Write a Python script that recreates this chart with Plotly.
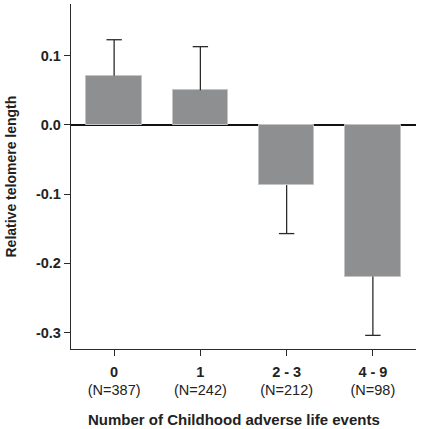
import plotly.graph_objects as go

categories = ["0", "1", "2 - 3", "4 - 9"]
n_labels = ["(N=387)", "(N=242)", "(N=212)", "(N=98)"]
values = [0.071, 0.050, -0.087, -0.219]
errors = [0.052, 0.063, 0.070, 0.085]
y_tickvals = [0.1, 0.0, -0.1, -0.2, -0.3]
y_ticktext = ["0.1", "0.0", "-0.1", "-0.2", "-0.3"]

xs = list(range(len(categories)))
ends = [v + e if v >= 0 else v - e for v, e in zip(values, errors)]

stem_x, stem_y = [], []
for x, v, end in zip(xs, values, ends):
    stem_x += [x, x, None]
    stem_y += [v, end, None]

FONT = "Liberation Sans, Arial, sans-serif"
AX = "#2b2b2b"
TXT = "#222"

fig = go.Figure()
fig.add_trace(go.Bar(
    x=xs, y=values, width=0.646,
    marker=dict(color="#8e8f90", line=dict(color="#c4c4c4", width=1)),
    showlegend=False, hoverinfo="skip",
))
fig.add_trace(go.Scatter(
    x=stem_x, y=stem_y, mode="lines",
    line=dict(color=AX, width=1.3), showlegend=False, hoverinfo="skip",
))
fig.add_trace(go.Scatter(
    x=xs, y=ends, mode="markers",
    marker=dict(symbol="line-ew", size=11, line=dict(color=AX, width=1.3)),
    showlegend=False, hoverinfo="skip",
))

fig.update_layout(
    width=421, height=429,
    margin=dict(l=71, r=5, t=4, b=80, autoexpand=False),
    plot_bgcolor="white", paper_bgcolor="white",
    font=dict(family=FONT, color=TXT, size=14.5),
    bargap=0,
)
fig.update_xaxes(
    automargin=False,
    range=[-0.5, 3.5],
    tickvals=xs,
    ticktext=[f"<b>{c}</b><br>{n}" for c, n in zip(categories, n_labels)],
    tickfont=dict(size=14.5, family=FONT, color=TXT),
    ticks="outside", ticklen=6, tickwidth=1.3, tickcolor=AX,
    ticklabelstandoff=3,
    showline=True, linecolor=AX, linewidth=1.3,
    showgrid=False, zeroline=False,
)
fig.update_yaxes(
    automargin=False,
    range=[-0.3237, 0.1746],
    tickvals=y_tickvals,
    ticktext=[f"<b>{t}</b>" for t in y_ticktext],
    tickfont=dict(size=14.5, family=FONT, color=TXT),
    ticks="outside", ticklen=6, tickwidth=1.3, tickcolor=AX,
    showline=True, linecolor=AX, linewidth=1.3,
    showgrid=False,
    zeroline=True, zerolinecolor="#111", zerolinewidth=1.6,
)
fig.add_annotation(
    text="<b>Number of Childhood adverse life events</b>",
    xref="paper", yref="paper", x=0.5, y=0, xanchor="center", yanchor="middle",
    yshift=-70, xshift=-10, showarrow=False,
    font=dict(size=15, family=FONT, color=TXT),
)
fig.add_annotation(
    text="<b>Relative telomere length</b>",
    xref="paper", yref="paper", x=0, y=0.5, xanchor="center", yanchor="middle",
    xshift=-61, textangle=-90, showarrow=False,
    font=dict(size=14, family=FONT, color=TXT),
)

fig.write_html(
    "out.html",
    config={"displayModeBar": False},
    post_script="document.body.style.margin='0';document.body.style.overflow='hidden';",
)
